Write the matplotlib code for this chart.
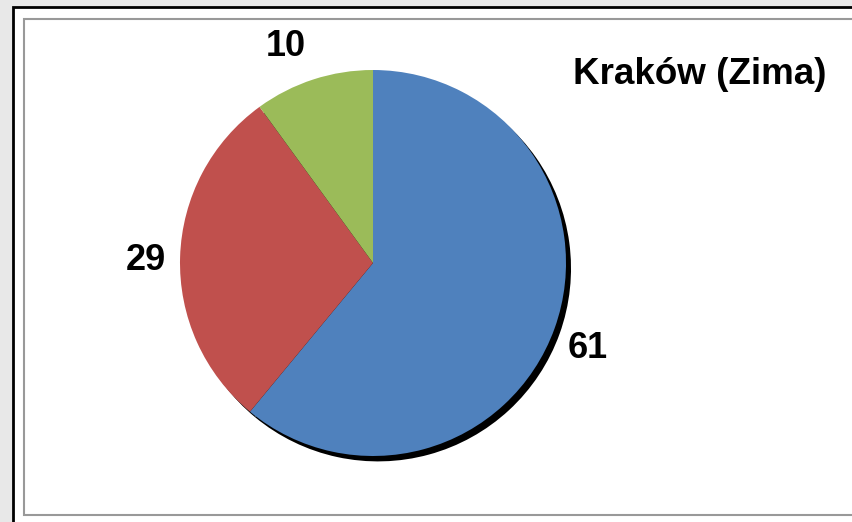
import matplotlib.pyplot as plt
from matplotlib.patches import Rectangle

# Kraków, winter share
title = 'Kraków (Zima)'
values = [61, 29, 10]
labels = ['61', '29', '10']
colors = ['#4F81BD', '#C0504D', '#9BBB59']

W, H = 853, 522
fig = plt.figure(figsize=(W / 100, H / 100), dpi=100)
fig.patch.set_facecolor('#e8e8e8')


def box(x, y, w, h):
    # pixel box (top-left origin) -> figure fraction
    return (x / W, 1 - (y + h) / H), w / W, h / H


xy, w, h = box(13, 7, 860, 530)
fig.add_artist(Rectangle(xy, w, h, transform=fig.transFigure, zorder=-2,
                         facecolor='white', edgecolor='black', linewidth=2))
xy, w, h = box(24, 19, 860, 496)
fig.add_artist(Rectangle(xy, w, h, transform=fig.transFigure, zorder=-1,
                         facecolor='white', edgecolor='#999999', linewidth=1.5))

# pie centre (373, 263) px, radius 193 px, axes spans +-1.3
r_px = 193
half = 1.3 * r_px
ax = fig.add_axes([(373 - half) / W, 1 - (263 + half) / H, 2 * half / W, 2 * half / H])
ax.set_zorder(1)

# drop shadow
ax.pie(values, colors=['black'] * 3, startangle=90, counterclock=False,
       center=(0.026, -0.028), wedgeprops=dict(linewidth=0))
wedges, texts = ax.pie(values, labels=labels, colors=colors, startangle=90,
                       counterclock=False, labeldistance=1.2,
                       wedgeprops=dict(linewidth=0),
                       textprops=dict(fontsize=26, fontweight='bold',
                                      family='Liberation Sans'))
# nudge the value labels
nudges = [(-0.015, -0.035), (0.025, -0.025), (-0.08, -0.02)]
for t, (dx, dy) in zip(texts, nudges):
    t.set_ha('center')
    t.set_va('center')
    x, y = t.get_position()
    t.set_position((x + dx, y + dy))

ax.set_xlim(-1.3, 1.3)
ax.set_ylim(-1.3, 1.3)
ax.set_aspect('equal')
ax.axis('off')

fig.text(699.5 / W, 1 - 75 / H, title, ha='center', va='center',
         fontsize=26.5, fontweight='bold', family='Liberation Sans')

fig.savefig('out.png', dpi=100, facecolor=fig.get_facecolor())
